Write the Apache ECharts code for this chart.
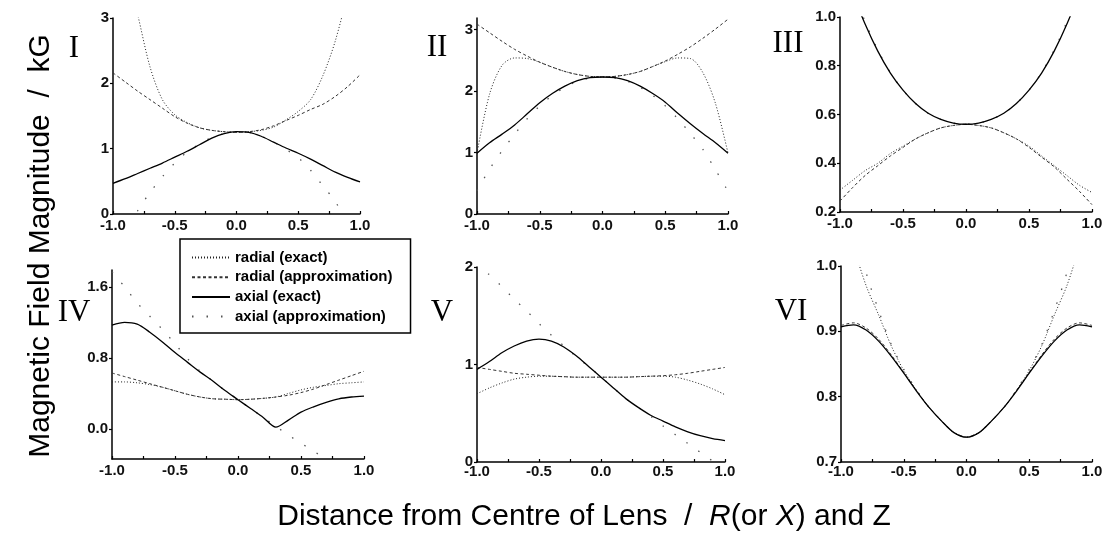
<!DOCTYPE html>
<html><head><meta charset="utf-8">
<script src="https://cdn.jsdelivr.net/npm/echarts@6/dist/echarts.min.js"></script>
<style>html,body{margin:0;padding:0;background:#fff}#c{width:1106px;height:537px}</style>
</head><body><div id="c"></div>
<script>
// shared x positions (R or Z, fraction of lens radius)
const X = [-1.0,-0.9,-0.8,-0.7,-0.6,-0.5,-0.4,-0.3,-0.2,-0.1,0.0,0.1,0.2,0.3,0.4,0.5,0.6,0.7,0.8,0.9,1.0];
const xTickLabels = [-1.0,-0.5,0.0,0.5,1.0];
const xTickMarks = [-1.0,-0.75,-0.5,-0.25,0.0,0.25,0.5,0.75,1.0];
const seriesNames = ['radial (exact)','radial (approximation)','axial (exact)','axial (approximation)'];

// Panel I
const I_radEx = [5.0,3.8,3.05,2.25,1.75,1.52,1.40,1.32,1.28,1.26,1.25,1.26,1.28,1.33,1.44,1.57,1.75,2.12,2.65,3.4,4.5];
const I_radAp = [2.16,2.02,1.88,1.75,1.62,1.49,1.39,1.32,1.28,1.26,1.25,1.26,1.29,1.35,1.43,1.51,1.60,1.68,1.80,1.95,2.13];
const I_axEx  = [0.47,0.54,0.62,0.70,0.78,0.87,0.96,1.06,1.16,1.23,1.26,1.25,1.19,1.10,1.01,0.93,0.84,0.74,0.64,0.56,0.49];
const I_axAp  = [-1.0,-0.35,0.05,0.33,0.57,0.78,0.95,1.07,1.17,1.23,1.26,1.25,1.19,1.10,0.99,0.86,0.67,0.43,0.19,-0.15,-0.55];
const I_yTicks = [0,1,2,3];
// Panel II
const II_radEx = [0.99,1.95,2.42,2.54,2.53,2.47,2.39,2.32,2.27,2.24,2.23,2.24,2.27,2.32,2.40,2.48,2.54,2.53,2.30,1.80,0.99];
const II_radAp = [3.09,2.95,2.81,2.68,2.57,2.47,2.39,2.32,2.27,2.24,2.23,2.24,2.27,2.32,2.40,2.49,2.60,2.72,2.86,3.01,3.17];
const II_axEx  = [0.99,1.16,1.30,1.45,1.63,1.81,1.96,2.08,2.17,2.22,2.23,2.22,2.17,2.08,1.96,1.82,1.64,1.47,1.31,1.16,0.99];
const II_axAp  = [0.38,0.73,1.03,1.30,1.55,1.76,1.93,2.06,2.16,2.21,2.23,2.21,2.16,2.06,1.93,1.76,1.55,1.31,1.05,0.72,0.37];
const II_yTicks = [0,1,2,3];
// Panel III
const III_radEx = [0.29,0.33,0.37,0.40,0.44,0.47,0.50,0.525,0.545,0.555,0.56,0.555,0.545,0.525,0.50,0.47,0.43,0.39,0.35,0.31,0.28];
const III_radAp = [0.245,0.30,0.35,0.39,0.43,0.465,0.50,0.525,0.545,0.555,0.56,0.555,0.545,0.525,0.50,0.465,0.425,0.385,0.335,0.285,0.23];
const III_axEx  = [1.25,1.10,0.97,0.86,0.77,0.70,0.645,0.605,0.58,0.565,0.56,0.565,0.58,0.605,0.645,0.70,0.77,0.86,0.97,1.10,1.25];
const III_axAp  = [1.28,1.12,0.98,0.865,0.772,0.70,0.645,0.605,0.58,0.565,0.56,0.565,0.58,0.605,0.645,0.70,0.772,0.865,0.98,1.12,1.28];
const III_yTicks = [0.2,0.4,0.6,0.8,1.0];
// Panel IV
const IV_radEx = [0.53,0.53,0.52,0.50,0.47,0.43,0.39,0.36,0.34,0.335,0.33,0.335,0.345,0.36,0.40,0.44,0.47,0.49,0.51,0.52,0.53];
const IV_radAp = [0.63,0.59,0.55,0.51,0.47,0.43,0.39,0.36,0.34,0.335,0.33,0.335,0.345,0.36,0.38,0.41,0.45,0.50,0.55,0.60,0.65];
const IV_axEx  = [1.17,1.20,1.18,1.09,0.98,0.86,0.75,0.64,0.54,0.43,0.33,0.23,0.13,0.02,0.10,0.19,0.25,0.30,0.34,0.36,0.37];
const IV_axAp  = [1.77,1.60,1.42,1.27,1.12,0.96,0.79,0.65,0.54,0.43,0.33,0.23,0.13,0.03,-0.07,-0.16,-0.25,-0.34,-0.43,-0.52,-0.62];
const IV_yTicks = [0.0,0.8,1.6];
// Panel V
const V_radEx = [0.70,0.76,0.81,0.85,0.87,0.88,0.88,0.875,0.87,0.87,0.87,0.87,0.87,0.875,0.88,0.88,0.87,0.84,0.80,0.75,0.69];
const V_radAp = [0.97,0.95,0.93,0.91,0.90,0.89,0.88,0.875,0.87,0.87,0.87,0.87,0.87,0.875,0.88,0.885,0.895,0.91,0.93,0.95,0.97];
const V_axEx  = [0.95,1.03,1.12,1.19,1.24,1.26,1.24,1.18,1.09,0.98,0.87,0.76,0.65,0.56,0.48,0.42,0.36,0.31,0.27,0.24,0.22];
const V_axAp  = [2.03,1.92,1.80,1.67,1.55,1.42,1.30,1.19,1.08,0.98,0.87,0.76,0.65,0.56,0.47,0.37,0.28,0.19,0.10,0.01,-0.08];
const V_yTicks = [0,1,2];
// Panel VI
const VI_radEx = [1.10,1.03,0.97,0.925,0.878,0.840,0.810,0.784,0.763,0.745,0.738,0.745,0.763,0.784,0.810,0.840,0.878,0.925,0.97,1.03,1.10];
const VI_radAp = [0.909,0.913,0.905,0.888,0.864,0.837,0.810,0.784,0.763,0.745,0.738,0.745,0.763,0.784,0.810,0.837,0.864,0.888,0.905,0.913,0.909];
const VI_axEx  = [0.907,0.910,0.902,0.885,0.862,0.836,0.809,0.784,0.763,0.745,0.738,0.745,0.763,0.784,0.809,0.836,0.862,0.885,0.902,0.910,0.907];
const VI_axAp  = [1.16,1.07,0.99,0.932,0.880,0.842,0.811,0.784,0.763,0.745,0.738,0.745,0.763,0.784,0.811,0.842,0.880,0.932,0.99,1.07,1.16];
const VI_yTicks = [0.7,0.8,0.9,1.0];

const panels = [
  {num:'I',   nx:74,  ny:49,  grid:{left:113,top:18,width:247,height:196}, min:0,     max:3,    ticks:I_yTicks,   dec:0, xm:4, d:[I_radEx,I_radAp,I_axEx,I_axAp]},
  {num:'II',  nx:437, ny:48,  grid:{left:477,top:18,width:251,height:196}, min:0,     max:3.19, ticks:II_yTicks,  dec:0, xm:4, d:[II_radEx,II_radAp,II_axEx,II_axAp]},
  {num:'III', nx:788, ny:44,  grid:{left:840,top:17,width:252,height:195}, min:0.2,   max:1.0,  ticks:III_yTicks, dec:1, xm:4, d:[III_radEx,III_radAp,III_axEx,III_axAp]},
  {num:'IV',  nx:74,  ny:313, grid:{left:112,top:270,width:252,height:189},min:-0.338,max:1.79, ticks:IV_yTicks,  dec:1, xm:4, d:[IV_radEx,IV_radAp,IV_axEx,IV_axAp]},
  {num:'V',   nx:442, ny:313, grid:{left:477,top:267,width:248,height:195},min:0,     max:2,    ticks:V_yTicks,   dec:0, xm:2, d:[V_radEx,V_radAp,V_axEx,V_axAp]},
  {num:'VI',  nx:791, ny:312, grid:{left:841,top:266,width:251,height:196},min:0.7,   max:1.0,  ticks:VI_yTicks,  dec:1, xm:2, d:[VI_radEx,VI_radAp,VI_axEx,VI_axAp]}
];

const styles = [
  {color:'#222', width:1,   type:[1,2]},
  {color:'#333', width:1,   type:[3,2.5]},
  {color:'#000', width:1.3, type:'solid'},
  {color:'#555', width:1.3, type:[1.5,13]}
];
const labelFont = {fontFamily:'Liberation Sans', fontSize:15, fontWeight:'bold', color:'#111'};
const axisLine = {show:true, onZero:false, lineStyle:{color:'#000', width:1.5}};

const option = {
  animation:false,
  backgroundColor:'#fff',
  grid:[], xAxis:[], yAxis:[], series:[],
  legend:{
    data:seriesNames, orient:'vertical', left:180, top:239,
    padding:[11,18,9,11], itemGap:4.7, itemWidth:38, itemHeight:14,
    backgroundColor:'#fff', borderColor:'#000', borderWidth:1.5, borderRadius:0,
    selectedMode:false, z:20,
    itemStyle:{color:'rgba(0,0,0,0)', borderWidth:0, opacity:0},
    textStyle:{fontFamily:'Liberation Sans', fontSize:15, fontWeight:'bold', color:'#000'}
  },
  graphic:[
    {type:'text', x:41, y:246, rotation:Math.PI/2, z:10,
     style:{text:'Magnetic Field Magnitude  /  kG', fontFamily:'Liberation Sans', fontSize:30, fill:'#000', align:'center', verticalAlign:'middle'}},
    {type:'text', x:584, y:517, z:10,
     style:{text:'{n|Distance from Centre of Lens  /  }{i|R}{n|(or }{i|X}{n|) and Z}', align:'center', verticalAlign:'middle',
       rich:{n:{fontFamily:'Liberation Sans', fontSize:30, fill:'#000'}, i:{fontFamily:'Liberation Sans', fontSize:30, fontStyle:'italic', fill:'#000'}}}}
  ]
};

panels.forEach((p, gi) => {
  option.grid.push(Object.assign({containLabel:false}, p.grid));
  option.xAxis.push({
    type:'value', gridIndex:gi, min:-1, max:1, interval:0.5,
    axisLine:axisLine, splitLine:{show:false},
    axisTick:{show:true, inside:true, length:3, customValues:xTickMarks, lineStyle:{color:'#000', width:1.2}},
    axisLabel:Object.assign({margin:p.xm, customValues:xTickLabels, formatter:v => v.toFixed(1)}, labelFont)
  });
  option.yAxis.push({
    type:'value', gridIndex:gi, min:p.min, max:p.max,
    axisLine:axisLine, splitLine:{show:false},
    axisTick:{show:true, inside:false, length:3, customValues:p.ticks, lineStyle:{color:'#000', width:1.2}},
    axisLabel:Object.assign({margin:4, customValues:p.ticks, formatter:v => v.toFixed(p.dec)}, labelFont)
  });
  p.d.forEach((vals, si) => {
    option.series.push({
      name:seriesNames[si], type:'line', xAxisIndex:gi, yAxisIndex:gi,
      data:X.map((x, k) => [x, vals[k]]),
      smooth:0.3, symbol:'none', showSymbol:false, clip:true, silent:true,
      z: si === 2 ? 5 : 3,
      itemStyle:{color:'rgba(0,0,0,0)', borderWidth:0},
      lineStyle:{color:styles[si].color, width:styles[si].width, type:styles[si].type}
    });
  });
  option.graphic.push({type:'text', x:p.nx, y:p.ny, z:10,
    style:{text:p.num, fontFamily:'Liberation Serif', fontSize:31, fill:'#000', align:'center', verticalAlign:'middle'}});
});

const chart = echarts.init(document.getElementById('c'), null, {renderer:'canvas'});
chart.setOption(option);
</script></body></html>
